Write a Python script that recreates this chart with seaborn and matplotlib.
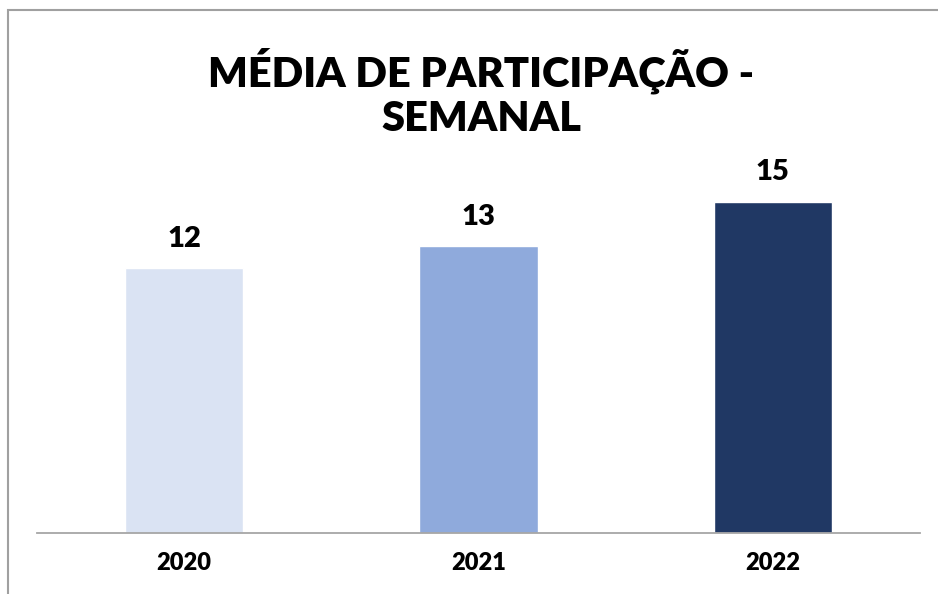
import matplotlib
matplotlib.use("Agg")
import matplotlib.pyplot as plt
import seaborn as sns
import pandas as pd
from matplotlib.patches import Rectangle

years = ["2020", "2021", "2022"]
values = [12, 13, 15]
colors = ["#DAE3F3", "#8FAADC", "#203864"]
title = "MÉDIA DE PARTICIPAÇÃO -\nSEMANAL"

sns.set_theme(style="white")
plt.rcParams["font.family"] = ["Lato", "DejaVu Sans"]

W, H = 938, 594
fig = plt.figure(figsize=(W / 100, H / 100), dpi=100)
ax = fig.add_axes([37 / W, (H - 533) / H, (920 - 37) / W, (533 - 180) / H])

df = pd.DataFrame({"year": years, "value": values})
sns.barplot(data=df, x="year", y="value", hue="year", palette=colors,
            width=0.403, ax=ax, legend=False, saturation=1)

ax.set_xlim(-0.5, 2.5)
ax.set_ylim(0, 16)
ax.set_yticks([])
ax.set_xlabel("")
ax.set_ylabel("")
for s in ["top", "right", "left"]:
    ax.spines[s].set_visible(False)
ax.spines["bottom"].set_color("#A6A6A6")
ax.spines["bottom"].set_linewidth(1.3)
ax.tick_params(axis="x", length=0, pad=14)
for lbl in ax.get_xticklabels():
    lbl.set_fontsize(17)
    lbl.set_fontweight("heavy")
    lbl.set_color("black")

for i, v in enumerate(values):
    ax.annotate(str(v), (i, v), xytext=(0, 12), textcoords="offset points",
                ha="center", va="bottom", fontsize=21, fontweight="heavy", color="black")

fig.text(481 / W, 1 - 93 / H, title, ha="center", va="center", fontsize=30,
         fontweight="heavy", color="black", linespacing=1.2)

# chart border (cropped on right and bottom)
fig.patches.append(Rectangle((8 / W, -0.1), 1.2, 1 - 10 / H + 0.1, transform=fig.transFigure,
                             fill=False, edgecolor="#A0A0A0", linewidth=1.5))

fig.savefig("out.png", dpi=100)
